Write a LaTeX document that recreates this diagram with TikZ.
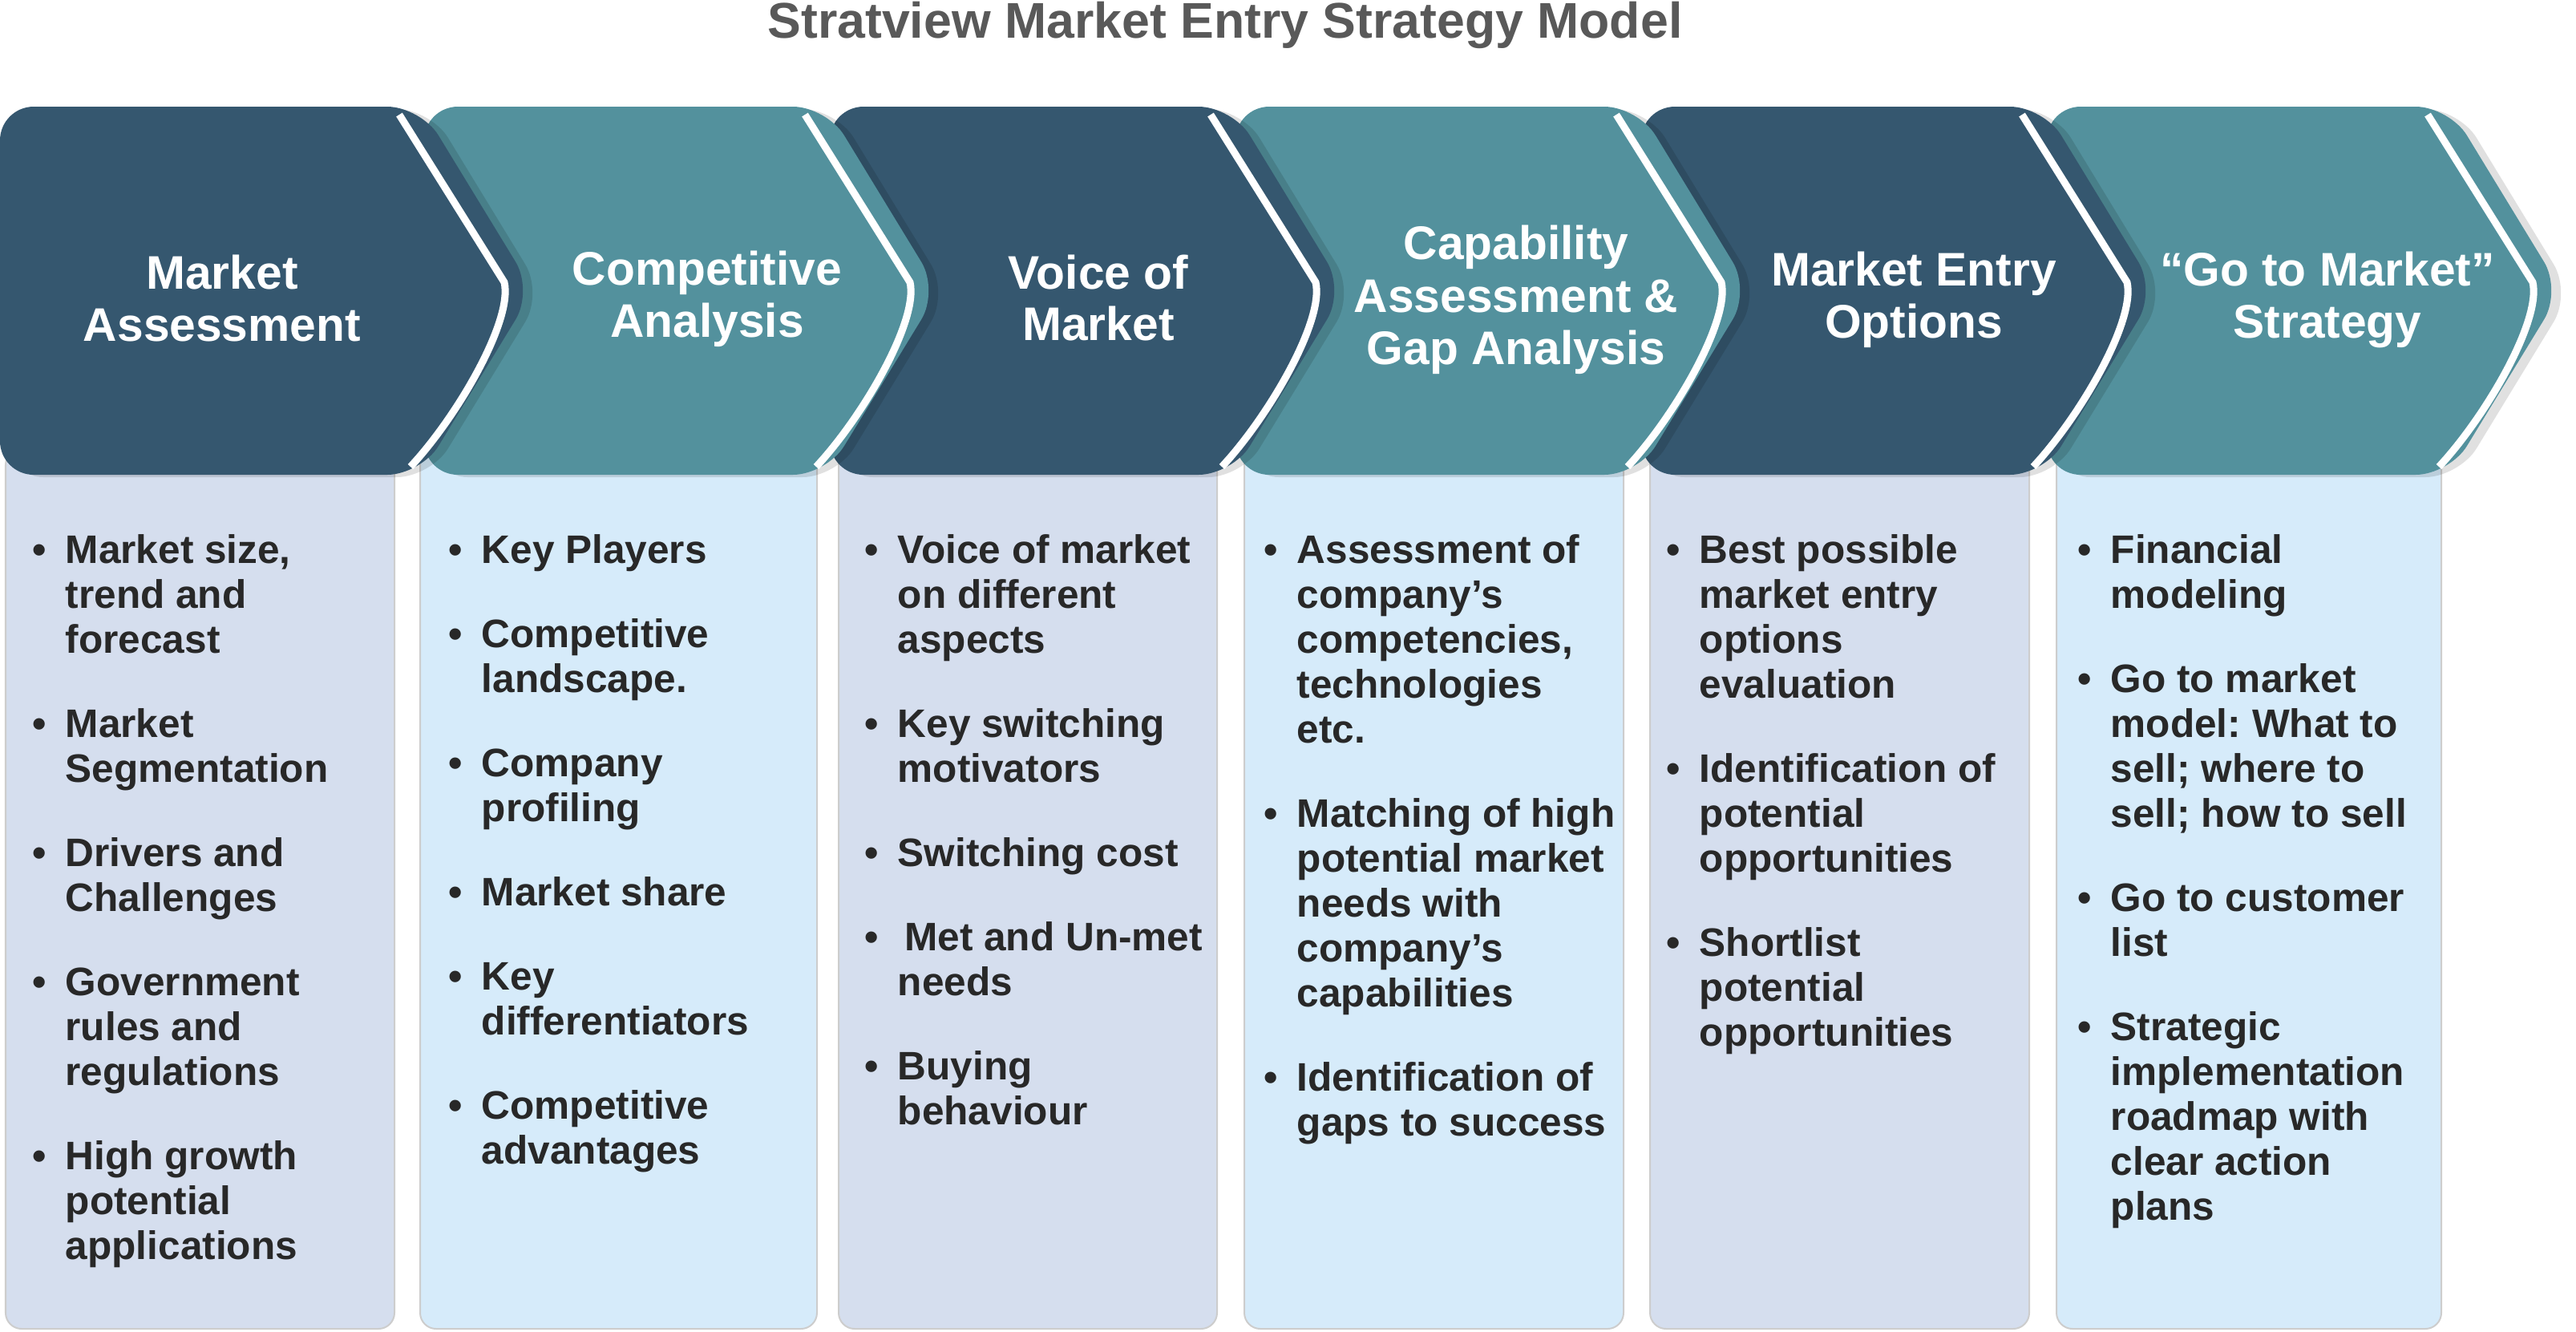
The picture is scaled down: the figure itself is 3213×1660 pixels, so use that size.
\documentclass[tikz,border=0pt]{standalone}
\usepackage{fontspec}
\setmainfont{Liberation Sans}
\frenchspacing
\definecolor{chdark}{RGB}{53,87,111}
\definecolor{chteal}{RGB}{83,145,157}
\definecolor{collav}{RGB}{213,222,238}
\definecolor{colblue}{RGB}{214,235,250}
\definecolor{coltxt}{RGB}{40,40,40}
\definecolor{titlegray}{RGB}{89,89,89}
\definecolor{colborder}{RGB}{205,205,205}
\tikzset{
  chevshadow/.style={fill=black, opacity=0.12},
  whiteline/.style={draw=white, line width=0.09cm, line join=round},
  colbox/.style={draw=colborder, line width=0.02cm, rounded corners=0.2cm},
  head/.style={text=white, font=\fontsize{16.7pt}{20pt}\selectfont\bfseries\frenchspacing, anchor=base, inner sep=0pt},
  coltext/.style={text=coltxt, font=\fontsize{14.1pt}{16pt}\selectfont\bfseries\frenchspacing, anchor=base west, inner sep=0pt},
  bul/.style={text=coltxt, font=\fontsize{14.1pt}{16pt}\selectfont\bfseries, anchor=base, inner sep=0pt},
  titletext/.style={text=titlegray, font=\fontsize{17.8pt}{20pt}\selectfont\bfseries, anchor=base, inner sep=0pt},
}
% #1 left x, #2 sharp tip x, #3 colour
\newcommand{\mkchev}[3]{%
  \fill[chevshadow, xshift=0.12cm, yshift=-0.03cm] (#1,362) [rounded corners=0.42cm] -- (#1,133) -- ({#2-140},133) -- (#2,362.5) -- ({#2-140},592) -- (#1,592) -- cycle;
  \fill[#3] (#1,362) [rounded corners=0.42cm] -- (#1,133) -- ({#2-140},133) -- (#2,362.5) -- ({#2-140},592) -- (#1,592) -- cycle;
  \draw[whiteline] ({#2-167},143) -- ({#2-36},352) .. controls ({#2-25},400) and ({#2-95},520) .. ({#2-153},582);
}
% #1 column id, #2 text x, #3 list n/k/bullet/text
\newcommand{\collines}[3]{%
  \foreach \n/\k/\b/\txt in {#3} {%
    \node[coltext] (#1-\n) at (#2,{702+56*\n+49*\k}) {\txt};
    \ifnum\b=1 \node[bul] (#1-b\n) at ({#2-32},{702+56*\n+49*\k}) {\textbullet};\fi
  }%
}
\begin{document}
\begin{tikzpicture}[x=0.01cm, y=-0.01cm]
\useasboundingbox (0,0) rectangle (3213,1660);
% columns
\draw[colbox, fill=collav]  (7,560)    rectangle (492,1657);
\draw[colbox, fill=colblue] (524,560)  rectangle (1019,1657);
\draw[colbox, fill=collav]  (1046,560) rectangle (1518,1657);
\draw[colbox, fill=colblue] (1552,560) rectangle (2025,1657);
\draw[colbox, fill=collav]  (2058,560) rectangle (2531,1657);
\draw[colbox, fill=colblue] (2565,560) rectangle (3045,1657);
% chevrons (right to left so each overlaps the next)
\mkchev{2553}{3195}{chteal}
\mkchev{2047}{2689}{chdark}
\mkchev{1541}{2183}{chteal}
\mkchev{1035}{1677}{chdark}
\mkchev{529}{1171}{chteal}
\mkchev{0}{665}{chdark}
% title
\node[titletext] (title) at (1528,47) {Stratview Market Entry Strategy Model};
% headers
\node[head] (h1a) at (277,360) {Market};
\node[head] (h1b) at (277,425) {Assessment};
\node[head] (h2a) at (882,355) {Competitive};
\node[head] (h2b) at (882,420) {Analysis};
\node[head] (h3a) at (1370,360) {Voice of};
\node[head] (h3b) at (1370,424) {Market};
\node[head] (h4a) at (1891,323) {Capability};
\node[head] (h4b) at (1891,389) {Assessment \&};
\node[head] (h4c) at (1891,454) {Gap Analysis};
\node[head] (h5a) at (2387,356) {Market Entry};
\node[head] (h5b) at (2387,421) {Options};
\node[head] (h6a) at (2903,356) {“Go to Market”};
\node[head] (h6b) at (2903,421) {Strategy};
% column texts
\collines{c1}{81}{0/0/1/{Market size,}, 1/0/0/trend and, 2/0/0/forecast,
  3/1/1/Market, 4/1/0/Segmentation,
  5/2/1/Drivers and, 6/2/0/Challenges,
  7/3/1/Government, 8/3/0/rules and, 9/3/0/regulations,
  10/4/1/High growth, 11/4/0/potential, 12/4/0/applications}
\collines{c2}{600}{0/0/1/Key Players,
  1/1/1/Competitive, 2/1/0/landscape.,
  3/2/1/Company, 4/2/0/profiling,
  5/3/1/Market share,
  6/4/1/Key, 7/4/0/differentiators,
  8/5/1/Competitive, 9/5/0/advantages}
\collines{c3}{1119}{0/0/1/Voice of market, 1/0/0/on different, 2/0/0/aspects,
  3/1/1/Key switching, 4/1/0/motivators,
  5/2/1/Switching cost,
  6/3/1/{\hspace{0.17em}Met and Un-met}, 7/3/0/needs,
  8/4/1/Buying, 9/4/0/behaviour}
\collines{c4}{1617}{0/0/1/Assessment of, 1/0/0/company’s, 2/0/0/{competencies,}, 3/0/0/technologies, 4/0/0/etc.,
  5/1/1/Matching of high, 6/1/0/potential market, 7/1/0/needs with, 8/1/0/company’s, 9/1/0/capabilities,
  10/2/1/Identification of, 11/2/0/gaps to success}
\collines{c5}{2119}{0/0/1/Best possible, 1/0/0/market entry, 2/0/0/options, 3/0/0/evaluation,
  4/1/1/Identification of, 5/1/0/potential, 6/1/0/opportunities,
  7/2/1/Shortlist, 8/2/0/potential, 9/2/0/opportunities}
\collines{c6}{2632}{0/0/1/Financial, 1/0/0/modeling,
  2/1/1/Go to market, 3/1/0/{model: What to}, 4/1/0/{sell; where to}, 5/1/0/{sell; how to sell},
  6/2/1/Go to customer, 7/2/0/list,
  8/3/1/Strategic, 9/3/0/implementation, 10/3/0/roadmap with, 11/3/0/clear action, 12/3/0/plans}
\end{tikzpicture}
\end{document}
